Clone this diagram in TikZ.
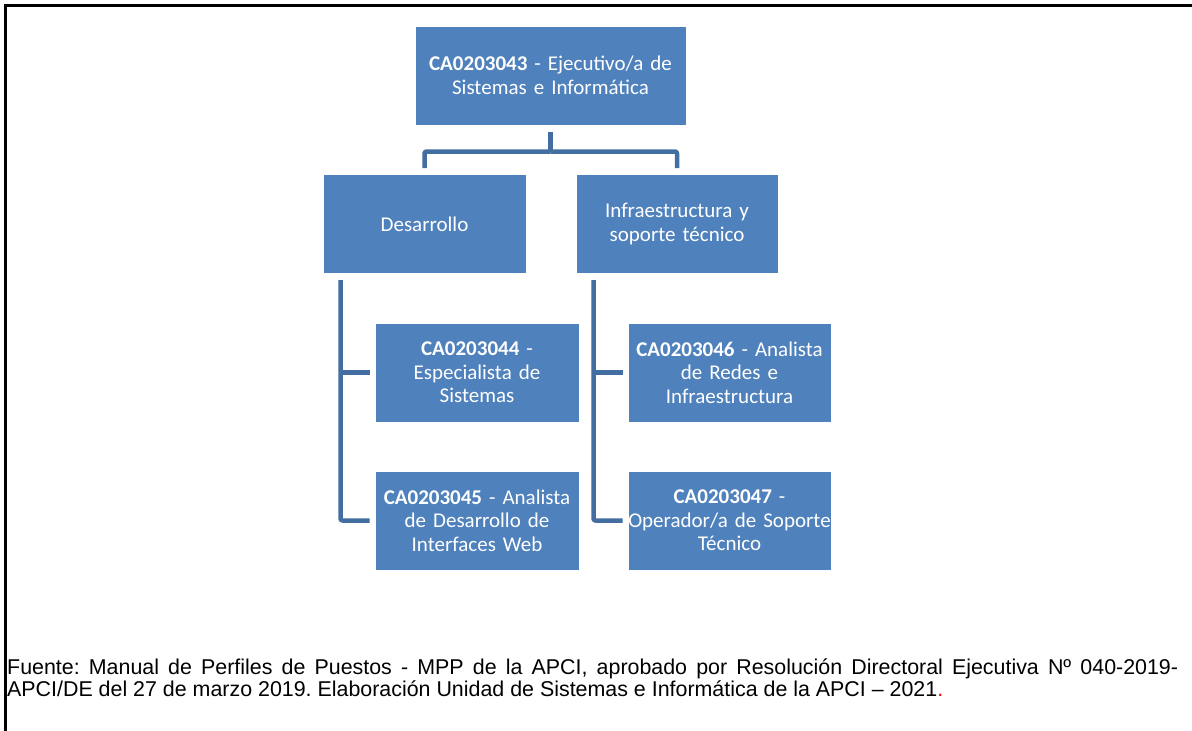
\documentclass[tikz,border=0pt]{standalone}
\usepackage{fontspec}
\setmainfont{Carlito}
\newfontfamily\footfont{Liberation Sans}
\definecolor{boxblue}{HTML}{4F81BD}
\definecolor{linkblue}{HTML}{436EA1}
\definecolor{footred}{HTML}{FF0000}
\begin{document}
\begin{tikzpicture}[x=1pt,y=1pt,
  orgbox/.style={rectangle, fill=boxblue, draw=white, line width=1pt,
    inner sep=0pt, text=white, align=center,
    font=\fontsize{21}{23.5}\selectfont},
  conn/.style={draw=linkblue, line width=4.5pt, rounded corners=2pt, line join=round}]
\useasboundingbox (0,0) rectangle (1192,-731);
% frame
\draw[line width=3pt, black] (5.5,-731) -- (5.5,-5.5) -- (1192,-5.5);
% boxes
\node[orgbox, text width=271pt, minimum height=99pt] (top) at (550.5,-75.5)
  {\textbf{CA0203043} - Ejecutivo/a de\\Sistemas e Informática};
\node[orgbox, text width=203pt, minimum height=99pt] (des) at (424.5,-224)
  {Desarrollo};
\node[orgbox, text width=202pt, minimum height=99pt] (inf) at (677,-224)
  {Infraestructura y\\soporte técnico};
\node[orgbox, text width=204pt, minimum height=99pt] (c44) at (477,-372.5)
  {\textbf{CA0203044} -\\Especialista de\\Sistemas};
\node[orgbox, text width=204pt, minimum height=99pt] (c45) at (477,-520.5)
  {\textbf{CA0203045} - Analista\\de Desarrollo de\\Interfaces Web};
\node[orgbox, text width=203pt, minimum height=99pt] (c46) at (729.5,-372.5)
  {\textbf{CA0203046} - Analista\\de Redes e\\Infraestructura};
\node[orgbox, text width=203pt, minimum height=99pt] (c47) at (729.5,-520.5)
  {\textbf{CA0203047} -\\Operador/a de Soporte\\Técnico};
% top connectors
\coordinate (tj) at ([yshift=-26pt]top.south);
\draw[conn] ([yshift=-6pt]top.south) -- (tj);
\draw[conn] (tj) -| ([yshift=6pt]des.north);
\draw[conn] (tj) -| ([yshift=6pt]inf.north);
% left branch
\coordinate (lv) at ([xshift=18pt,yshift=-6pt]des.south west);
\draw[conn] (lv) |- ([xshift=-5pt]c45.west);
\draw[conn] ([xshift=-5pt]c44.west) -- (c44.west -| lv);
% right branch
\coordinate (rv) at ([xshift=18pt,yshift=-6pt]inf.south west);
\draw[conn] (rv) |- ([xshift=-5pt]c47.west);
\draw[conn] ([xshift=-5pt]c46.west) -- (c46.west -| rv);
% footer
\node[anchor=north west, inner sep=0pt, text width=1171pt, align=justify,
  font=\footfont\fontsize{21.4}{21.8}\selectfont\frenchspacing] (foot) at (7,-659)
  {Fuente: Manual de Perfiles de Puestos - MPP de la APCI, aprobado por Resolución Directoral Ejecutiva Nº 040-2019-\linebreak APCI/DE del 27 de marzo 2019. Elaboración Unidad de Sistemas e Informática de la APCI – 2021\textcolor{footred}{.}};
\end{tikzpicture}
\end{document}
